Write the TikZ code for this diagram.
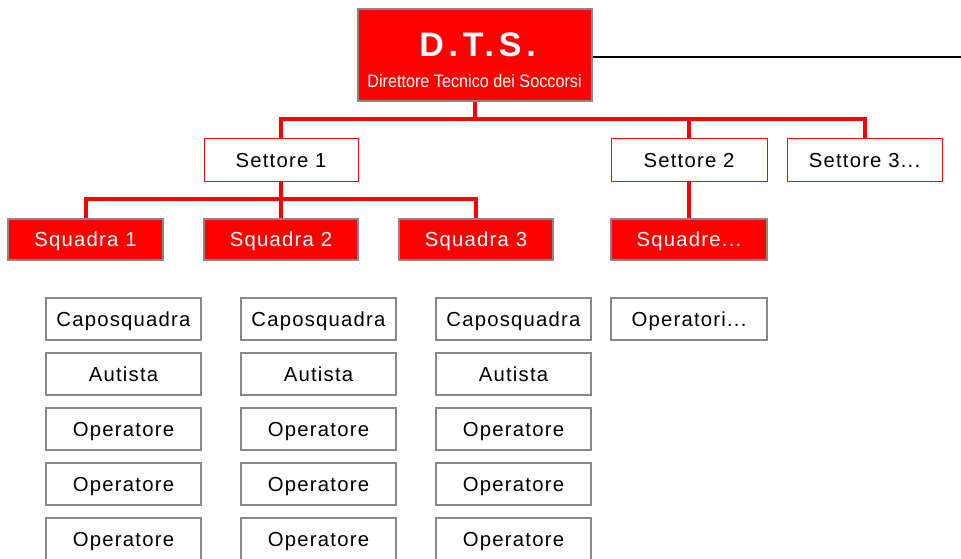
\documentclass[tikz,border=0pt]{standalone}
\usepackage{fontspec}
\setmainfont{Liberation Sans}
\newfontfamily\boxfont{Liberation Sans}[LetterSpace=6]
\newfontfamily\titlefont{Liberation Sans}[LetterSpace=14]
\newfontfamily\subfont{Liberation Sans}[FakeStretch=0.9]
\definecolor{bred}{RGB}{255,0,0}
\definecolor{bgrey}{RGB}{136,136,136}
\tikzset{
  x=1pt, y=-1pt,
  basebox/.style={rectangle, inner sep=0pt, minimum height=42pt, minimum width=155pt,
    font=\boxfont\fontsize{20.3}{24}\selectfont, text height=14.5pt, text depth=0pt},
  settorebox/.style={basebox, draw=bred, line width=1pt, fill=white, text=black},
  squadrabox/.style={basebox, draw=bgrey, line width=1.2pt, fill=bred, text=white, minimum height=41pt},
  rolebox/.style={basebox, draw=bgrey, line width=1.2pt, fill=white, text=black},
  redline/.style={draw=bred, line width=4pt, line join=miter},
}
\begin{document}
\begin{tikzpicture}
\useasboundingbox (0,0) rectangle (961,559);
% DTS
\node[draw=bgrey, line width=1.2pt, fill=bred, minimum width=234pt, minimum height=92pt, inner sep=0pt] (dts) at (475,55) {};
\node[anchor=base, text=white, font=\titlefont\bfseries\fontsize{34}{36}\selectfont, inner sep=0pt] (dtstitle) at (477.5,56.7) {D.T.S.};
\node[anchor=base, text=white, font=\subfont\fontsize{18}{20}\selectfont, inner sep=0pt] (dtssub) at (474.5,87.3) {Direttore Tecnico dei Soccorsi};
\coordinate (rightend) at (961,57.3);
\draw[black, line width=1.8pt] (dts.east |- rightend) -- (rightend);
% Settori
\node[settorebox, minimum width=154pt] (s1) at (281,160) {Settore 1};
\node[settorebox, minimum width=156pt] (s2) at (689,160) {Settore 2};
\node[settorebox] (s3) at (864.5,160) {Settore 3...};
% Squadre
\node[squadrabox] (q1) at (85.5,239.5) {Squadra 1};
\node[squadrabox, minimum width=154pt] (q2) at (281,239.5) {Squadra 2};
\node[squadrabox, minimum width=154pt] (q3) at (476,239.5) {Squadra 3};
\node[squadrabox, minimum width=156pt] (q4) at (689,239.5) {Squadre...};
% connectors
\coordinate (bar1) at (475,119);
\coordinate (bar2) at (281,199);
\draw[redline] (dts.south) -- (dts.south |- bar1);
\draw[redline] (s1.north) |- (bar1 -| s3.north) -- (s3.north);
\draw[redline] (s2.north) -- (s2.north |- bar1);
\draw[redline] (s1.south) -- (q2.north);
\draw[redline] (q1.north) |- (bar2 -| q3.north) -- (q3.north);
\draw[redline] (s2.south) -- (q4.north);
% Roles
\foreach \c/\x in {a/123.5, b/318.5, c/513.5} {
  \node[rolebox] (\c1) at (\x,319) {Caposquadra};
  \node[rolebox] (\c2) at (\x,374) {Autista};
  \node[rolebox] (\c3) at (\x,429) {Operatore};
  \node[rolebox] (\c4) at (\x,484) {Operatore};
  \node[rolebox] (\c5) at (\x,539) {Operatore};
}
\node[rolebox, minimum width=156pt] (d1) at (689,319) {Operatori...};
\end{tikzpicture}
\end{document}
